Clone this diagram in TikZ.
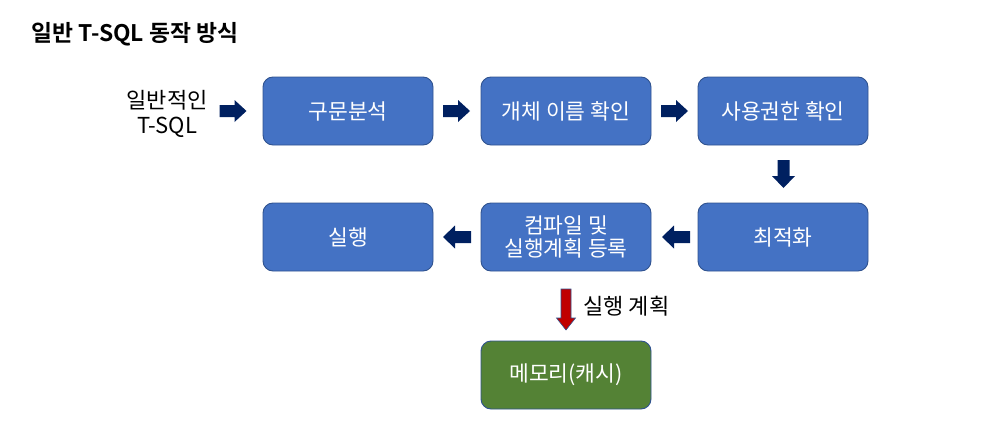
\documentclass[tikz,border=0pt]{standalone}
\usepackage{fontspec}
\setmainfont{Noto Sans CJK KR}
\newfontfamily\krb{Noto Sans CJK KR}[BoldFont={* Bold}]
\definecolor{boxblue}{HTML}{4472C4}
\definecolor{boxline}{HTML}{2F528F}
\definecolor{boxgreen}{HTML}{548235}
\definecolor{navy}{HTML}{002060}
\definecolor{darkred}{HTML}{C00000}
\newcommand{\blockarrow}[5]{% cx cy rotation length width
  \begin{scope}[shift={(#1,#2)},rotate=#3]
    \fill[navy] (-#4/2,-6) -- (#4/2-12,-6) -- (#4/2-12,-#5/2) -- (#4/2,0) -- (#4/2-12,#5/2) -- (#4/2-12,6) -- (-#4/2,6) -- cycle;
  \end{scope}}
\begin{document}
\begin{tikzpicture}[x=1pt,y=-1pt,
  procbox/.style={draw=boxline, line width=0.9pt, fill=boxblue, rounded corners=10pt,
    minimum width=170pt, minimum height=68pt, text=white, font=\fontsize{21.5}{23}\selectfont,
    align=center, inner sep=2pt},
  membox/.style={procbox, fill=boxgreen}]
\useasboundingbox (0,0) rectangle (989,423);
\node[anchor=west, font=\krb\bfseries\fontsize{22.8}{26}\selectfont] (title) at (28,34) {일반 T-SQL 동작 방식};
\node[align=center, font=\fontsize{22}{25}\selectfont] (input) at (167,114) {일반적인\\T-SQL};
\node[procbox] (parse) at (348,111) {구문분석};
\node[procbox] (name) at (566,111) {개체 이름 확인};
\node[procbox] (perm) at (783,111) {사용권한 확인};
\node[procbox] (opt) at (783,237) {최적화};
\node[procbox] (comp) at (566,237) {컴파일 및\\실행계획 등록};
\node[procbox] (exec) at (348,237) {실행};
\node[membox] (mem) at (566,375) {메모리(캐시)};
\blockarrow{233}{111}{0}{27}{22}
\blockarrow{456.5}{111}{0}{27}{22}
\blockarrow{674.5}{111}{0}{27}{22}
\blockarrow{783.5}{174}{-90}{28}{23}
\blockarrow{676}{237}{180}{28}{23}
\blockarrow{457}{237}{180}{28}{23}
\draw[boxline, fill=darkred, line width=0.6pt] (561,289) -- (571,289) -- (571,318) -- (575.5,318) -- (566,330) -- (556.5,318) -- (561,318) -- cycle;
\node[anchor=west, font=\fontsize{22}{25}\selectfont] (planlbl) at (580,306) {실행 계획};
\end{tikzpicture}
\end{document}
